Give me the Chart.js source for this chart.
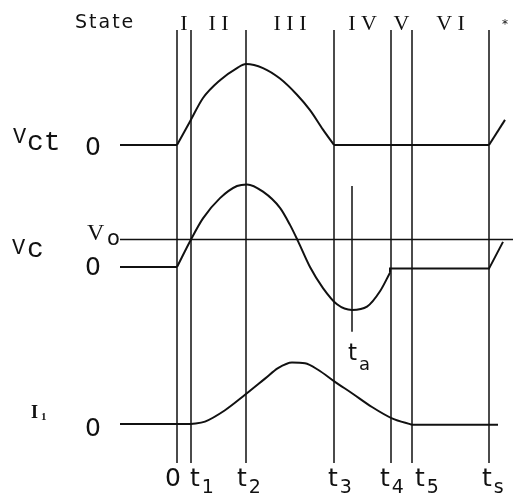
<!DOCTYPE html>
<html>
<head>
<meta charset="utf-8">
<script src="https://cdn.jsdelivr.net/npm/chart.js@4.4.1/dist/chart.umd.min.js"></script>
<style>
  html, body { margin: 0; padding: 0; background: #fff; }
  canvas { display: block; }
</style>
</head>
<body>
<canvas id="chart" width="516" height="494"></canvas>
<script>
// time unit: 0 at the first state boundary
const stateTimes = [0, 14, 69, 157, 214, 235, 312];
const stateNames = ['I', 'II', 'III', 'IV', 'V', 'VI'];
const tickMain = ['0', 't', 't', 't', 't', 't', 't'];
const tickSub = ['', '1', '2', '3', '4', '5', 's'];

// Vct (normalised to its peak)
const vctTime = [-57, 0, 13, 26, 43, 60, 69, 86, 103, 120, 133, 146, 157, 312, 328];
const vctValue = [0, 0, 0.29, 0.58, 0.80, 0.95, 1.00, 0.95, 0.82, 0.62, 0.43, 0.19, 0, 0, 0.31];

// Vc
const vcTime = [-57, 0, 14, 26, 43, 60, 70, 86, 103, 113, 121, 133, 146, 160, 175, 190, 203, 213];
const vcValue = [0, 0, 0.34, 0.60, 0.85, 1.00, 1.02, 0.93, 0.73, 0.52, 0.32, 0, -0.26, -0.46, -0.53, -0.49, -0.30, -0.07];
const vcTailTime = [213, 213, 312, 326];
const vcTailValue = [-0.07, -0.02, -0.02, 0.31];
const vo = 0.34;
const voTime = [-57, 336];

// I1
const i1Time = [-57, 14, 28, 48, 68, 88, 101, 115, 128, 141, 158, 175, 195, 215, 235, 321];
const i1Value = [0, 0, 0.03, 0.17, 0.36, 0.56, 0.69, 0.76, 0.75, 0.67, 0.52, 0.38, 0.21, 0.07, -0.01, -0.01];

// ta marker (in Vc units)
const taTime = 175;
const taRange = [1.0, -0.80];

// layout: baselines of each trace on the page, gain per unit
const vctBase = 145, vcBase = 267, i1Base = 424, gain = 81;
const lineTop = 30, lineBottom = 463;

const pts = (ts, vs, base) => ts.map((t, i) => ({ x: t, y: base - vs[i] * gain }));

// split a trace into flat runs and curved runs so corners stay sharp
function runs(ts, vs) {
  const out = [];
  let cur = [0];
  for (let i = 1; i < ts.length; i++) {
    const flat = vs[i] === vs[i - 1];
    if (cur.length > 1) {
      const a = cur[cur.length - 2], b = cur[cur.length - 1];
      const prevFlat = vs[a] === vs[b];
      if (flat !== prevFlat) { out.push(cur); cur = [i - 1]; }
    }
    cur.push(i);
  }
  out.push(cur);
  return out.map(r => ({ t: r.map(i => ts[i]), v: r.map(i => vs[i]) }));
}

const line = (data, width, smooth) => ({
  data,
  borderColor: '#111',
  borderWidth: width,
  pointRadius: 0,
  fill: false,
  cubicInterpolationMode: smooth ? 'monotone' : 'default',
  tension: 0,
});

const datasets = [];
stateTimes.forEach(t => {
  datasets.push(line([{ x: t, y: lineTop }, { x: t, y: lineBottom }], 1.5, false));
});
[[vctTime, vctValue, vctBase], [vcTime, vcValue, vcBase], [i1Time, i1Value, i1Base]].forEach(([ts, vs, base]) => {
  runs(ts, vs).forEach(r => datasets.push(line(pts(r.t, r.v, base), 2, r.t.length > 2)));
});
datasets.push(line(pts(vcTailTime, vcTailValue, vcBase), 2, false));
datasets.push(line(pts(voTime, [vo, vo], vcBase), 1.5, false));
datasets.push(line(pts([taTime, taTime], taRange, vcBase), 1.5, false));

const textPlugin = {
  id: 'diagramText',
  afterDraw(chart) {
    const { ctx, scales: { x } } = chart;
    ctx.save();
    ctx.fillStyle = '#111';
    ctx.textBaseline = 'alphabetic';
    ctx.textAlign = 'left';

    ctx.font = '19px "DejaVu Sans"';
    ctx.letterSpacing = '2px';
    ctx.fillText('State', 75, 28);
    ctx.letterSpacing = '0px';

    ctx.font = '22px "Liberation Serif"';
    ctx.textAlign = 'center';
    stateNames.forEach((n, i) => {
      const mid = (x.getPixelForValue(stateTimes[i]) + x.getPixelForValue(stateTimes[i + 1])) / 2;
      ctx.fillText(n.split('').join(' '), mid, 30);
    });
    ctx.font = '12px "DejaVu Sans"';
    ctx.fillText('*', 505, 28);

    // left labels
    ctx.textAlign = 'left';
    ctx.font = '22px "Liberation Mono"';
    ctx.fillText('V', 13, 143);
    ctx.font = '28px "Liberation Mono"';
    ctx.fillText('ct', 27, 150);
    ctx.font = '25px "DejaVu Sans"';
    ctx.fillText('0', 85, 155);

    ctx.font = '22px "Liberation Mono"';
    ctx.fillText('V', 12, 254);
    ctx.font = '28px "Liberation Mono"';
    ctx.fillText('c', 27, 257);
    ctx.font = '24px "Liberation Serif"';
    ctx.fillText('V', 87, 240);
    ctx.font = '21px "DejaVu Sans"';
    ctx.fillText('o', 107, 245);
    ctx.font = '25px "DejaVu Sans"';
    ctx.fillText('0', 85, 275);

    ctx.font = 'bold 18px "Liberation Serif"';
    ctx.fillText('I', 31, 418);
    ctx.font = 'bold 11px "Liberation Serif"';
    ctx.fillText('1', 41, 420);
    ctx.font = '25px "DejaVu Sans"';
    ctx.fillText('0', 85, 436);

    // ta
    const tx = x.getPixelForValue(taTime);
    ctx.font = '23px "DejaVu Sans"';
    ctx.fillText('t', tx - 4, 360);
    ctx.font = '18px "DejaVu Sans"';
    ctx.fillText('a', tx + 7, 370);

    // time ticks
    const nudge = [-12, -1, -9, -6, -11, 3, -7];
    stateTimes.forEach((t, i) => {
      const px = x.getPixelForValue(t) + nudge[i];
      ctx.font = '25px "DejaVu Sans"';
      ctx.fillText(tickMain[i], px, 486);
      const w = ctx.measureText(tickMain[i]).width;
      if (tickSub[i]) {
        ctx.font = '19px "DejaVu Sans"';
        ctx.fillText(tickSub[i], px + w + 2, 493);
      }
    });
    ctx.restore();
  }
};

new Chart(document.getElementById('chart'), {
  type: 'line',
  data: { datasets },
  options: {
    responsive: false,
    animation: false,
    layout: { padding: 0 },
    plugins: { legend: { display: false }, tooltip: { enabled: false } },
    scales: {
      x: { type: 'linear', min: -177, max: 339, display: false },
      y: { type: 'linear', min: 0, max: 494, reverse: true, display: false },
    },
  },
  plugins: [textPlugin],
});
</script>
</body>
</html>
